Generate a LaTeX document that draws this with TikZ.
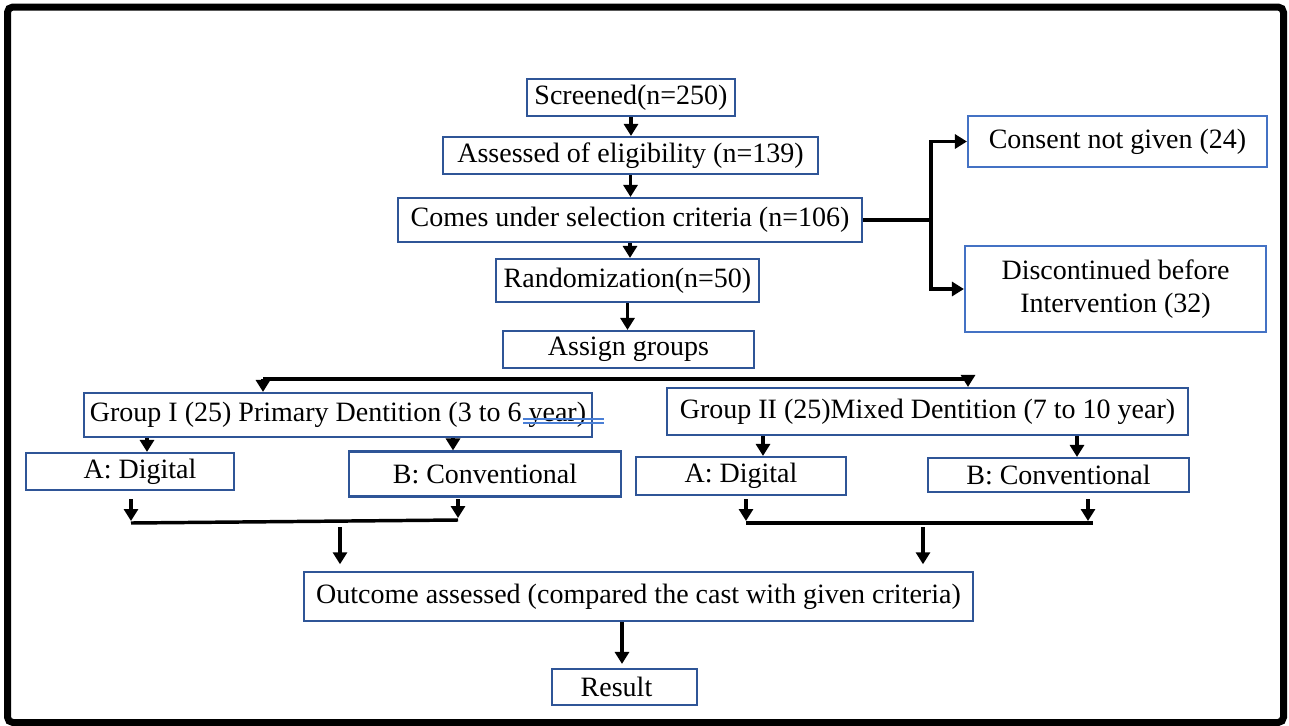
\documentclass[tikz,border=0pt]{standalone}
\usepackage{fontspec}
\setmainfont{Liberation Serif}
\usetikzlibrary{arrows.meta}
\definecolor{boxblue}{HTML}{2F5597}
\definecolor{lightblue}{HTML}{4472C4}
\definecolor{ulblue}{HTML}{4A7FD6}
\begin{document}
\begin{tikzpicture}[x=0.75pt,y=-0.75pt,
  box/.style={draw=boxblue, line width=1.6pt, inner sep=0pt, font=\fontsize{21}{25}\selectfont, text=black},
  lbox/.style={box, draw=lightblue},
  bsize/.style 2 args={minimum width=#1*0.75pt, minimum height=#2*0.75pt},
  conn/.style={line width=2.6pt, black},
  arr/.style={conn, -{Triangle[width=10.5pt,length=9pt]}}]
\useasboundingbox (0,0) rectangle (1289,725);
\fill[white] (0,0) rectangle (1289,725);
% outer frame
\draw[line width=5.25pt, rounded corners=4pt] (7.5,7) rectangle (1283.5,722.5);

% main column
\node[box, bsize={208}{37}] (scr) at (631,97.5) {\raisebox{-2pt}{Screened(n=250)}};
\node[box, bsize={375}{37}] (ass) at (630.5,155.5) {\raisebox{-2pt}{Assessed of eligibility (n=139)}};
\node[box, bsize={464}{44}] (com) at (630,220) {\raisebox{-2pt}{Comes under selection criteria (n=106)}};
\node[box, bsize={263}{43}] (ran) at (627.5,280.5) {\raisebox{-2pt}{Randomization(n=50)}};
\node[box, bsize={251}{37}] (asg) at (628.5,349.5) {\raisebox{-1pt}{Assign groups}};

% exclusions
\node[lbox, bsize={299}{51}] (con) at (1117.5,141.5) {Consent not given (24)};
\node[lbox, bsize={301}{86}, align=center] (dis) at (1115.5,289) {Discontinued before\\Intervention (32)};

% groups
\node[box, bsize={508}{44}] (g1) at (338,415) {Group I (25) Primary Dentition (3 to 6 year)};
\node[box, bsize={521}{47}] (g2) at (927.5,411.5) {Group II (25)Mixed Dentition (7 to 10 year)};
\node[box, bsize={208}{37}] (a1) at (130,471.5) {\hspace*{15pt}\raisebox{-2pt}{A: Digital}};
\node[box, bsize={272}{45}] (b1) at (485,474) {B: Conventional};
\node[box, bsize={210}{38}] (a2) at (741,476) {A: Digital};
\node[box, bsize={261}{34}] (b2) at (1058.5,475) {B: Conventional};

% outcome
\node[box, bsize={669}{49}] (out) at (638.5,596.5) {\raisebox{-2pt}{Outcome assessed (compared the cast with given criteria)}};
\node[box, bsize={145}{36}] (res) at (624.5,687) {\hspace*{-12pt}\raisebox{-5pt}{Result}};

% spell-check double underline
\draw[ulblue, line width=0.8pt] (523,419) -- (604,419);
\draw[ulblue, line width=0.8pt] (523,423) -- (604,423);

% main column arrows
\draw[arr] (scr.south) -- (scr.south |- ass.north);
\draw[arr] (ass.south) -- (ass.south |- com.north);
\draw[arr] (com.south) -- (com.south |- ran.north);
\draw[arr] (ran.south) -- (ran.south |- asg.north);

% branch to exclusions
\coordinate (br) at (931,220);
\draw[conn] (com.east) -- (br);
\draw[arr] (br) |- (con.west);
\draw[arr] (br) |- (dis.west);

% split into groups
\coordinate (h1) at (263,379);
\coordinate (h2) at (968,379);
\draw[conn] (h1) -- (h2);
\draw[arr] (h1) -- (h1 |- g1.north);
\draw[arr] (h2) -- (h2 |- g2.north);

% groups to subgroups
\coordinate (xa1) at (147,0);
\coordinate (xb1) at (453,0);
\coordinate (xa2) at (763,0);
\coordinate (xb2) at (1077,0);
\draw[arr] (xa1 |- g1.south) -- (xa1 |- a1.north);
\draw[arr] (xb1 |- g1.south) -- (xb1 |- b1.north);
\draw[arr] (xa2 |- g2.south) -- (xa2 |- a2.north);
\draw[arr] (xb2 |- g2.south) -- (xb2 |- b2.north);

% merges, left
\coordinate (m1a) at (131,499);
\coordinate (m1b) at (458,499);
\coordinate (l1a) at (131,523);
\coordinate (l1b) at (458,520);
\draw[arr] (m1a) -- (131,521);
\draw[arr] (m1b) -- (458,518);
\draw[conn] (l1a) -- (l1b);
\coordinate (d1) at (340,527);
\draw[arr, shorten >=5pt] (d1) -- (d1 |- out.north);

% merges, right
\coordinate (m2a) at (746,499);
\coordinate (m2b) at (1088,499);
\coordinate (l2a) at (746,523);
\coordinate (l2b) at (1093,523);
\draw[arr] (m2a) -- (746,521);
\draw[arr] (m2b) -- (1088,521);
\draw[conn] (l2a) -- (l2b);
\coordinate (d2) at (923,527);
\draw[arr, shorten >=5pt] (d2) -- (d2 |- out.north);

% outcome to result
\coordinate (xr) at (622,0);
\draw[arr, shorten >=3pt] (xr |- out.south) -- (xr |- res.north);
\end{tikzpicture}
\end{document}
